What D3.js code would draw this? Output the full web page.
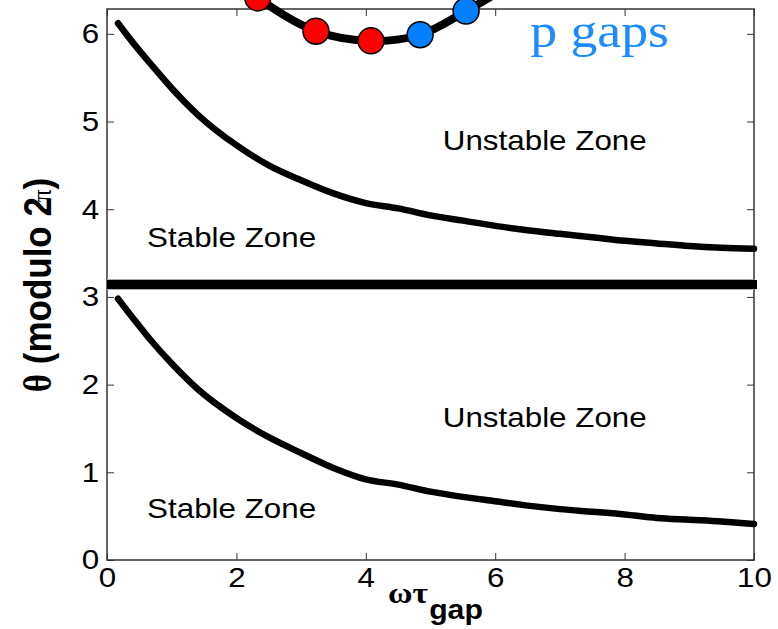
<!DOCTYPE html>
<html lang="en">
<head>
<meta charset="utf-8">
<script src="https://d3js.org/d3.v7.min.js"></script>
<style>
  body { margin: 0; background: #fff; }
</style>
</head>
<body>
<script>
  // values
  const wtau      = [0.17, 0.4, 0.66, 1.0, 1.4, 2.0, 2.5, 3.0, 3.5, 4.0, 4.5, 5.0, 5.5, 6.0, 6.5, 7.0, 7.5, 8.0, 8.5, 9.0, 9.5, 10.0];
  const thetaLow  = [2.98, 2.76, 2.52, 2.24, 1.95, 1.62, 1.40, 1.22, 1.05, 0.92, 0.86, 0.78, 0.72, 0.67, 0.62, 0.58, 0.55, 0.52, 0.48, 0.46, 0.44, 0.41];
  const thetaHigh = [6.12, 5.90, 5.67, 5.38, 5.08, 4.73, 4.50, 4.33, 4.18, 4.07, 4.01, 3.93, 3.87, 3.81, 3.76, 3.72, 3.68, 3.64, 3.61, 3.58, 3.56, 3.55];

  const gapX = [1.7, 2.33, 3.23, 4.08, 4.84, 5.55, 6.2, 6.8];
  const gapY = [6.80, 6.41, 6.03, 5.92, 5.99, 6.26, 6.55, 6.90];
  const dotX = [2.33, 3.23, 4.08, 4.84, 5.55];
  const dotY = [6.41, 6.03, 5.92, 5.99, 6.26];
  const dotGroup = ["m", "m", "m", "p", "p"];

  const xTicks = [0, 2, 4, 6, 8, 10];
  const yTicks = [0, 1, 2, 3, 4, 5, 6];

  const W = 778, H = 629;
  const mLeft = 107, mRight = 754, mTop = 9, mBottom = 560;
  const stretch = 1.12;   // text in the picture is a bit wide
  const sans = "Arial, 'Liberation Sans', sans-serif";
  const serif = "'Times New Roman', 'Liberation Serif', serif";

  const svg = d3.select("body").append("svg")
      .attr("width", W).attr("height", H)
      .attr("font-family", sans);

  const x = d3.scaleLinear().domain([0, 10]).range([mLeft, mRight]);
  const y = d3.scaleLinear().domain([0, 2 * Math.PI]).range([mBottom, mTop]);
  const dotColor = d3.scaleOrdinal().domain(["m", "p"]).range(["#ff0000", "#0080ff"]);

  // axes, matlab style: ticks inside, on all four sides
  svg.append("g").attr("transform", `translate(0,${mBottom})`)
      .call(d3.axisBottom(x).tickValues(xTicks).tickFormat(d3.format("d"))
        .tickSizeInner(-7).tickSizeOuter(0).tickPadding(7));
  svg.append("g").attr("transform", `translate(0,${mTop})`)
      .call(d3.axisTop(x).tickValues(xTicks).tickSizeInner(-7).tickSizeOuter(0).tickFormat(""));
  svg.append("g").attr("transform", `translate(${mLeft},0)`)
      .call(d3.axisLeft(y).tickValues(yTicks).tickFormat(d3.format("d"))
        .tickSizeInner(-7).tickSizeOuter(0).tickPadding(7));
  svg.append("g").attr("transform", `translate(${mRight},0)`)
      .call(d3.axisRight(y).tickValues(yTicks).tickSizeInner(-7).tickSizeOuter(0).tickFormat(""));

  svg.selectAll(".domain").remove();
  svg.selectAll(".tick line").attr("stroke", "#333").attr("stroke-width", 1);
  svg.selectAll(".tick text")
      .attr("font-size", 28)
      .attr("font-family", sans)
      .attr("fill", "#000")
      .attr("transform", `scale(${stretch},1)`);

  svg.append("rect")
      .attr("x", mLeft).attr("y", mTop)
      .attr("width", mRight - mLeft).attr("height", mBottom - mTop)
      .attr("fill", "none").attr("stroke", "#333").attr("stroke-width", 1.5);

  // theta = pi boundary
  [-5, 5].forEach(d => {
    svg.append("line")
        .attr("x1", mLeft).attr("x2", mRight)
        .attr("y1", y(Math.PI) + d).attr("y2", y(Math.PI) + d)
        .attr("stroke", "#aaa").attr("stroke-width", 1);
  });
  svg.append("line")
      .attr("x1", mLeft).attr("x2", mRight + 3)
      .attr("y1", y(Math.PI)).attr("y2", y(Math.PI))
      .attr("stroke", "#000").attr("stroke-width", 9);

  // stability boundaries
  const line = d3.line().curve(d3.curveMonotoneX)
      .x(d => x(d[0])).y(d => y(d[1]));

  [thetaHigh, thetaLow].forEach(s => {
    svg.append("path")
        .datum(wtau.map((w, i) => [w, s[i]]))
        .attr("fill", "none")
        .attr("stroke", "#000")
        .attr("stroke-width", 6.5)
        .attr("stroke-linecap", "round")
        .attr("stroke-linejoin", "round")
        .attr("d", line);
  });

  // gap curve with dots (not clipped to the axes)
  svg.append("path")
      .datum(gapX.map((g, i) => [g, gapY[i]]))
      .attr("fill", "none")
      .attr("stroke", "#000")
      .attr("stroke-width", 8)
      .attr("d", d3.line().curve(d3.curveCatmullRom).x(d => x(d[0])).y(d => y(d[1])));

  svg.selectAll("circle.dot")
      .data(dotX.map((d, i) => ({ x: d, y: dotY[i], g: dotGroup[i] })))
      .enter().append("circle")
      .attr("class", "dot")
      .attr("cx", d => x(d.x))
      .attr("cy", d => y(d.y))
      .attr("r", 13)
      .attr("fill", d => dotColor(d.g))
      .attr("stroke", "#000")
      .attr("stroke-width", 1.5);

  // annotations
  function note(txt, px, py, size, family, fill) {
    svg.append("g").attr("transform", `translate(${px},${py}) scale(${stretch},1)`)
      .append("text")
        .attr("font-size", size)
        .attr("font-family", family || sans)
        .attr("fill", fill || "#000")
        .text(txt);
  }
  note("Unstable Zone", x(5.19), y(4.68), 28);
  note("Stable Zone", x(0.62), y(3.57), 28);
  note("Unstable Zone", x(5.19), y(1.52), 28);
  note("Stable Zone", x(0.62), y(0.48), 28);
  note("p gaps", x(6.54), y(5.85), 48, serif, "#1a8cff");

  // axis titles
  const xt = svg.append("g").attr("transform", `translate(388,603) scale(${stretch},1)`)
      .append("text").attr("font-weight", "bold").attr("fill", "#000");
  xt.append("tspan").attr("font-family", serif).attr("font-size", 30).text("ωτ");
  xt.append("tspan").attr("font-family", sans).attr("font-size", 27).attr("dy", 16).attr("dx", 1).text("gap");

  const yt = svg.append("g").attr("transform", `translate(51,285) scale(${stretch},1) rotate(-90)`)
      .append("text").attr("font-weight", "bold").attr("text-anchor", "middle")
      .attr("font-size", 35).attr("fill", "#000");
  yt.append("tspan").attr("font-family", serif).text("θ");
  yt.append("tspan").text(" (modulo 2");
  yt.append("tspan").attr("font-family", serif).attr("font-weight", "normal")
      .attr("font-size", 25).attr("dx", -5).text("π");
  yt.append("tspan").text(")");
</script>
</body>
</html>
